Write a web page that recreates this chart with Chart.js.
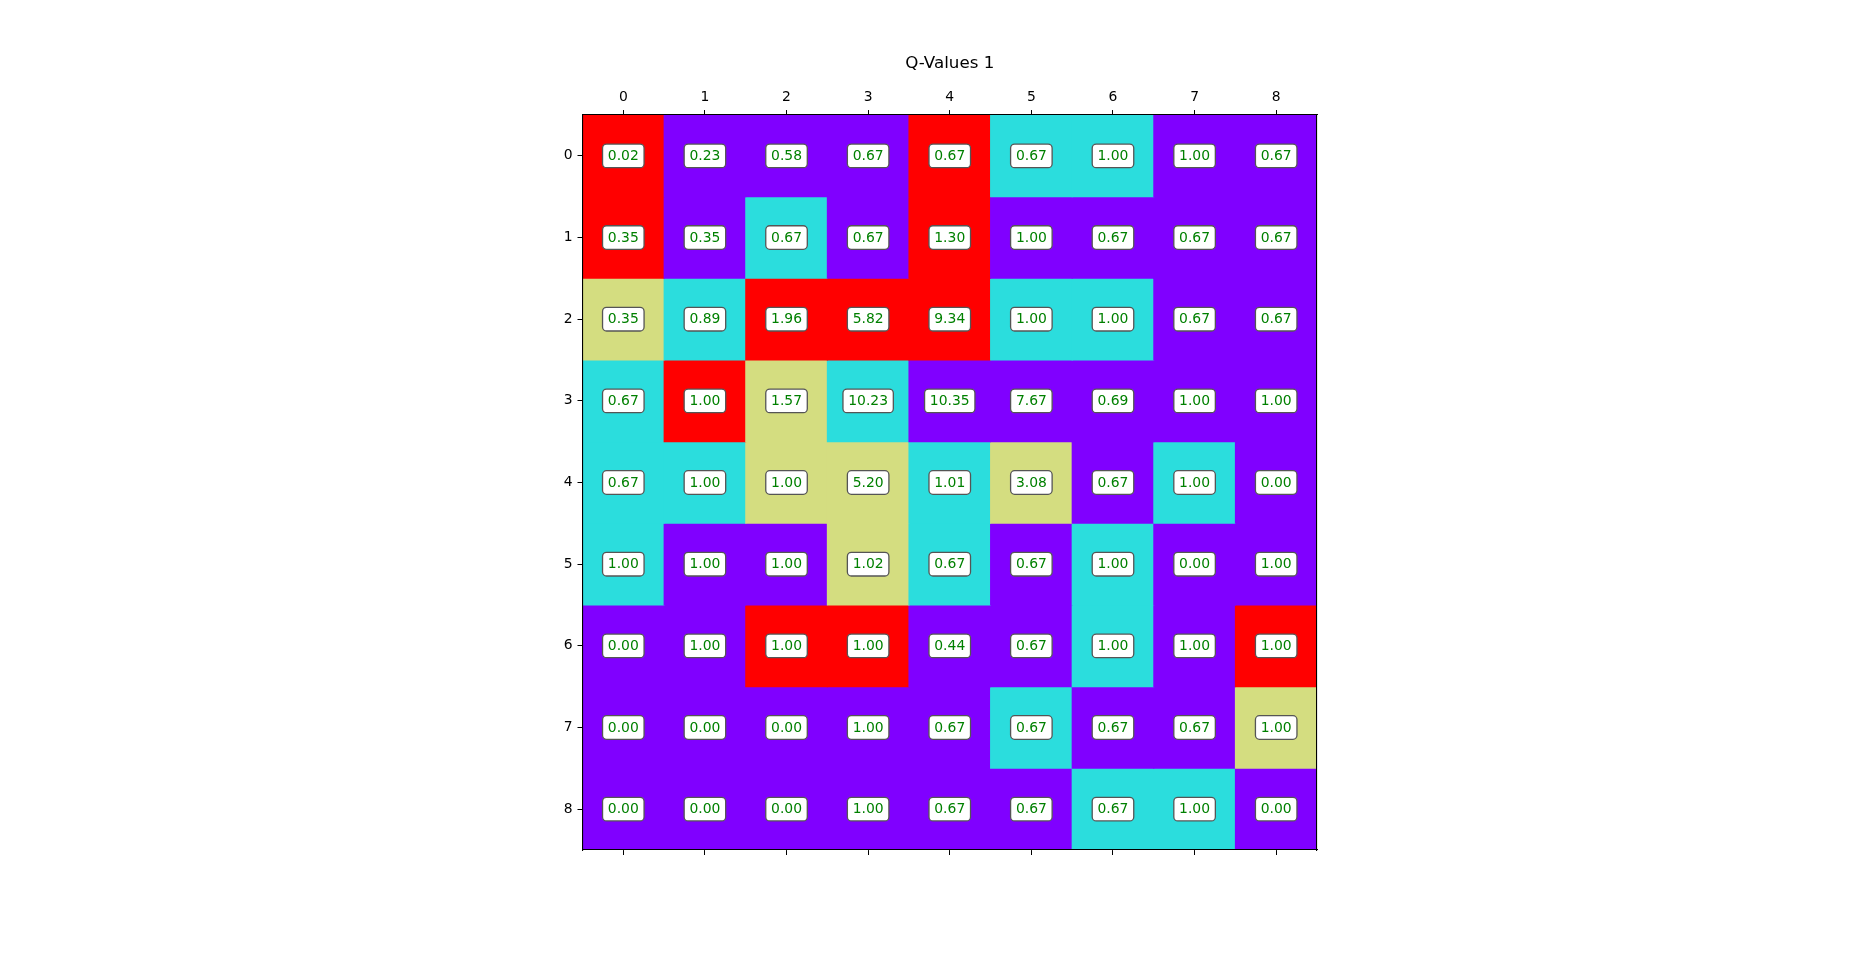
<!DOCTYPE html>
<html>
<head>
<meta charset="utf-8">
<script src="https://cdn.jsdelivr.net/npm/chart.js@4/dist/chart.umd.min.js"></script>
<style>
  html, body { margin: 0; padding: 0; background: #ffffff; overflow: hidden; }
  #wrap { width: 1853px; height: 955px; position: relative; }
</style>
</head>
<body>
<div id="wrap"><canvas id="c" width="1853" height="955"></canvas></div>
<script>
// ---- data ----
const chartTitle = 'Q-Values 1';
const colLabels = ['0', '1', '2', '3', '4', '5', '6', '7', '8'];
const rowLabels = [0, 1, 2, 3, 4, 5, 6, 7, 8];
// Q-values shown in each cell (row-major)
const qValues = [
  [0.02, 0.23, 0.58, 0.67, 0.67, 0.67, 1.00, 1.00, 0.67],
  [0.35, 0.35, 0.67, 0.67, 1.30, 1.00, 0.67, 0.67, 0.67],
  [0.35, 0.89, 1.96, 5.82, 9.34, 1.00, 1.00, 0.67, 0.67],
  [0.67, 1.00, 1.57, 10.23, 10.35, 7.67, 0.69, 1.00, 1.00],
  [0.67, 1.00, 1.00, 5.20, 1.01, 3.08, 0.67, 1.00, 0.00],
  [1.00, 1.00, 1.00, 1.02, 0.67, 0.67, 1.00, 0.00, 1.00],
  [0.00, 1.00, 1.00, 1.00, 0.44, 0.67, 1.00, 1.00, 1.00],
  [0.00, 0.00, 0.00, 1.00, 0.67, 0.67, 0.67, 0.67, 1.00],
  [0.00, 0.00, 0.00, 1.00, 0.67, 0.67, 0.67, 1.00, 0.00]
];
// best-action index per cell (0..3), coloured with the rainbow colormap
const bestAction = [
  [3, 0, 0, 0, 3, 1, 1, 0, 0],
  [3, 0, 1, 0, 3, 0, 0, 0, 0],
  [2, 1, 3, 3, 3, 1, 1, 0, 0],
  [1, 3, 2, 1, 0, 0, 0, 0, 0],
  [1, 1, 2, 2, 1, 2, 0, 1, 0],
  [1, 0, 0, 2, 1, 0, 1, 0, 0],
  [0, 0, 3, 3, 0, 0, 1, 0, 3],
  [0, 0, 0, 0, 0, 1, 0, 0, 2],
  [0, 0, 0, 0, 0, 0, 1, 1, 0]
];
const actionColors = ['#8000ff', '#2bdddd', '#d4dd80', '#ff0000'];

// ---- one floating-bar dataset per row ----
const datasets = rowLabels.map((r, ri) => ({
  label: 'row ' + r,
  data: colLabels.map(() => [r - 0.5, r + 0.5]),
  backgroundColor: bestAction[ri].map(a => actionColors[a]),
  borderWidth: 0,
  inflateAmount: 0.5,
  barPercentage: 1.0,
  categoryPercentage: 1.0,
  grouped: false
}));

const FONT = 'DejaVu Sans';

const cellLabelPlugin = {
  id: 'cellLabels',
  afterDatasetsDraw(chart) {
    const ctx = chart.ctx;
    const xs = chart.scales.x, ys = chart.scales.y;
    ctx.save();
    ctx.font = '13.9px "' + FONT + '"';
    ctx.textAlign = 'center';
    ctx.textBaseline = 'middle';
    rowLabels.forEach((r, ri) => {
      colLabels.forEach((c, ci) => {
        const txt = qValues[ri][ci].toFixed(2);
        const cx = xs.getPixelForValue(ci);
        const cy = ys.getPixelForValue(r);
        const w = ctx.measureText(txt).width + 10.6;
        const h = 23.6;
        ctx.beginPath();
        ctx.roundRect(cx - w / 2, cy - h / 2, w, h, 4);
        ctx.fillStyle = '#ffffff';
        ctx.fill();
        ctx.lineWidth = 1.3;
        ctx.strokeStyle = '#555555';
        ctx.stroke();
        ctx.fillStyle = '#008000';
        ctx.fillText(txt, cx, cy + 0.5);
      });
    });
    ctx.restore();
  }
};

const tickFont = { family: FONT, size: 13.9 };
const gridOpts = { display: true, drawOnChartArea: false, drawTicks: true, tickLength: 5, color: '#000000', lineWidth: 1, z: 1 };
const borderOpts = { display: true, color: '#000000', width: 1.1, z: 1 };

new Chart(document.getElementById('c'), {
  type: 'bar',
  data: { labels: colLabels, datasets },
  plugins: [cellLabelPlugin],
  options: {
    responsive: false,
    animation: false,
    maintainAspectRatio: false,
    layout: { padding: { left: 552.5, right: 506, top: 54, bottom: 95 } },
    plugins: {
      legend: { display: false },
      tooltip: { enabled: false },
      title: {
        display: true,
        text: chartTitle,
        color: '#000000',
        font: { family: FONT, size: 16.7, weight: 'normal', lineHeight: 1.2 },
        padding: 0
      }
    },
    scales: {
      x: {
        type: 'category', position: 'top', offset: true,
        grid: Object.assign({}, gridOpts, { offset: false }),
        border: borderOpts,
        ticks: { color: '#000000', font: tickFont, padding: 4, maxRotation: 0, autoSkip: false },
        afterFit(s) { s.height = 41; }
      },
      x2: {
        type: 'category', position: 'bottom', offset: true,
        grid: Object.assign({}, gridOpts, { offset: false }),
        border: borderOpts,
        ticks: { display: false, autoSkip: false },
        afterFit(s) { s.height = 10; }
      },
      y: {
        type: 'linear', position: 'left', reverse: true, min: -0.5, max: 8.5,
        afterBuildTicks(s) { s.ticks = rowLabels.map(v => ({ value: v })); },
        grid: gridOpts,
        border: borderOpts,
        ticks: { color: '#000000', font: tickFont, padding: 5, callback: v => String(v) },
        afterFit(s) { s.width = 30; }
      },
      y2: {
        type: 'linear', position: 'right', min: -0.5, max: 8.5,
        grid: { display: false, drawOnChartArea: false, drawTicks: false },
        border: borderOpts,
        ticks: { display: false },
        afterFit(s) { s.width = 30; }
      }
    }
  }
});
</script>
</body>
</html>
